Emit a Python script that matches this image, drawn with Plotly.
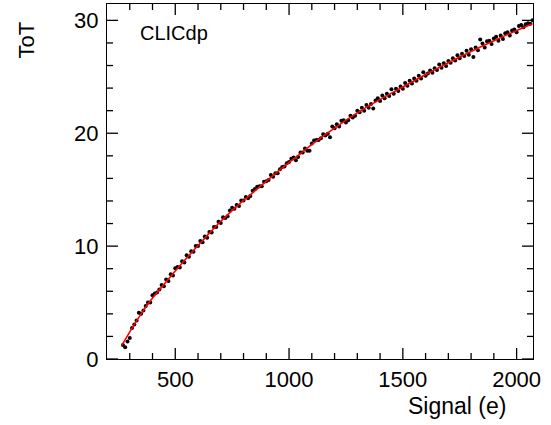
import plotly.graph_objects as go

# Measured points (Signal in electrons, ToT counts)
signal = [270, 280, 290, 300, 310, 320, 330, 340, 350, 360, 370, 380, 390, 400,
          410, 420, 430, 440, 450, 460, 470, 480, 490, 500, 510, 520, 530, 540, 550,
          560, 570, 580, 590, 600, 610, 620, 630, 640, 650, 660, 670, 680, 690, 700,
          710, 720, 730, 740, 750, 760, 770, 780, 790, 800, 810, 820, 830, 840, 850,
          860, 870, 880, 890, 900, 910, 920, 930, 940, 950, 960, 970, 980, 990, 1000,
          1010, 1020, 1030, 1040, 1050, 1060, 1070, 1080, 1090, 1100, 1110, 1120, 1130,
          1140, 1150, 1160, 1170, 1180, 1190, 1200, 1210, 1220, 1230, 1240, 1250, 1260,
          1270, 1280, 1290, 1300, 1310, 1320, 1330, 1340, 1350, 1360, 1370, 1380, 1390,
          1400, 1410, 1420, 1430, 1440, 1450, 1460, 1470, 1480, 1490, 1500, 1510, 1520,
          1530, 1540, 1550, 1560, 1570, 1580, 1590, 1600, 1610, 1620, 1630, 1640, 1650,
          1660, 1670, 1680, 1690, 1700, 1710, 1720, 1730, 1740, 1750, 1760, 1770, 1780,
          1790, 1800, 1810, 1820, 1830, 1840, 1850, 1860, 1870, 1880, 1890, 1900, 1910,
          1920, 1930, 1940, 1950, 1960, 1970, 1980, 1990, 2000, 2010, 2020, 2030, 2040,
          2050, 2060, 2070]
tot = [1.25, 1.05, 1.55, 1.85, 2.75, 3.05, 3.4, 4.1, 4.0, 4.3, 4.7, 5.0, 5.0, 5.65,
       5.8, 5.9, 6.15, 6.55, 6.45, 7.05, 6.9, 7.5, 7.4, 8.05, 8.15, 8.1, 8.65, 8.55, 9.2,
       9.05, 9.55, 9.5, 10.0, 10.0, 10.45, 10.35, 10.85, 10.75, 11.25, 11.2, 11.7, 11.7, 12.15, 12.05,
       12.55, 12.5, 12.65, 13.15, 13.4, 13.3, 13.65, 13.55, 14.05, 14.05, 14.35, 14.25, 14.45, 14.9, 15.05,
       15.25, 15.3, 15.3, 15.7, 15.75, 15.85, 16.3, 16.15, 16.45, 16.45, 16.8, 17.0, 17.05, 17.35, 17.45,
       17.75, 17.85, 17.6, 17.9, 18.3, 18.3, 18.65, 18.45, 18.45, 19.1, 19.35, 19.4, 19.4,
       19.55, 19.9, 19.8, 19.95, 19.65, 20.6, 20.45, 20.8, 20.6, 21.1, 21.15, 20.95, 21.15,
       21.55, 21.4, 21.55, 22.0, 21.85, 22.25, 22.0, 22.5, 22.25, 22.6, 22.2, 22.9, 23.1,
       22.85, 23.35, 23.1, 23.5, 23.3, 23.9, 23.5, 23.95, 23.75, 24.15, 23.95, 24.45, 24.2,
       24.65, 24.4, 24.85, 24.65, 25.1, 24.85, 25.4, 25.1, 25.3, 25.55, 25.35, 25.75, 25.6,
       26.1, 25.8, 26.2, 25.95, 26.4, 26.25, 26.65, 26.45, 26.9, 26.65, 27.05, 26.85, 27.3,
       26.95, 27.45, 26.75, 27.6, 27.35, 28.3, 27.95, 27.6, 28.15, 28.2, 27.9, 28.4, 28.55,
       28.2, 28.65, 28.35, 28.85, 28.95, 28.65, 29.1, 29.2, 28.95, 29.5, 29.6, 29.4, 29.65,
       29.75, 29.7, 30.0]

# Fit curve
fit_signal = [265, 300, 350, 400, 450, 500, 550, 600, 650, 700, 750, 800, 850, 900, 950,
              1000, 1100, 1200, 1300, 1400, 1500, 1600, 1700, 1800, 1900, 2000, 2070]
fit_tot = [1.2, 2.4, 4.0, 5.4, 6.6, 7.8, 8.95, 10.05, 11.15, 12.2, 13.15, 14.05, 14.9, 15.75, 16.6,
           17.4, 19.0, 20.45, 21.8, 23.0, 24.1, 25.2, 26.25, 27.25, 28.2, 29.1, 29.7]

# Tick values
x_major = [500, 1000, 1500, 2000]
x_minor = [300, 400, 600, 700, 800, 900, 1100, 1200, 1300, 1400, 1600, 1700, 1800, 1900]
y_major = [0, 10, 20, 30]
y_minor = [2, 4, 6, 8, 12, 14, 16, 18, 22, 24, 26, 28]

FONT = "Liberation Sans, Arial, Helvetica, sans-serif"
W, H = 551, 425
ML, MR, MT, MB = 107, 18, 4, 66
PW, PH = W - ML - MR, H - MT - MB
X_RANGE = [200, 2072]
Y_RANGE = [0, 31.45]
MAJ, MIN = 11, 6  # tick lengths in px

dx = (X_RANGE[1] - X_RANGE[0]) / PW
dy = (Y_RANGE[1] - Y_RANGE[0]) / PH

fig = go.Figure()

# ROOT-style inner tick marks, one small line trace per tick (drawn on the axes' own scales)
for vals, ln in ((x_major, MAJ), (x_minor, MIN)):
    for v in vals:
        for y0, y1 in ((Y_RANGE[0], Y_RANGE[0] + ln * dy), (Y_RANGE[1], Y_RANGE[1] - ln * dy)):
            fig.add_trace(go.Scatter(x=[v, v], y=[y0, y1], mode="lines",
                                     line=dict(color="black", width=1.3),
                                     hoverinfo="skip", showlegend=False))
for vals, ln in ((y_major, MAJ), (y_minor, MIN)):
    for v in vals:
        for x0, x1 in ((X_RANGE[0], X_RANGE[0] + ln * dx), (X_RANGE[1], X_RANGE[1] - ln * dx)):
            fig.add_trace(go.Scatter(x=[x0, x1], y=[v, v], mode="lines",
                                     line=dict(color="black", width=1.3),
                                     hoverinfo="skip", showlegend=False))

fig.add_trace(go.Scatter(x=signal, y=tot, mode="markers",
                         marker=dict(color="black", size=4),
                         showlegend=False))
fig.add_trace(go.Scatter(x=fit_signal, y=fit_tot, mode="lines",
                         line=dict(color="#ff0000", width=1.6, shape="spline", smoothing=0.6),
                         showlegend=False))

axis_common = dict(showgrid=False, zeroline=False, showline=True, linecolor="black",
                   linewidth=1.2, mirror=True, ticks="",
                   tickfont=dict(family=FONT, size=22, color="black"))

fig.update_xaxes(range=X_RANGE, tickmode="array", tickvals=x_major,
                 ticktext=[str(v) for v in x_major], **axis_common)
fig.update_yaxes(range=Y_RANGE, tickmode="array", tickvals=y_major,
                 ticktext=[str(v) for v in y_major], ticklabelstandoff=3, **axis_common)

fig.add_annotation(text="Signal (e)", xref="paper", yref="paper", x=0.942, y=-0.132,
                   xanchor="right", yanchor="middle", showarrow=False,
                   font=dict(family=FONT, size=23, color="black"))
fig.add_annotation(text="ToT", xref="paper", yref="paper", x=-0.188, y=0.9,
                   xanchor="center", yanchor="middle", textangle=-90, showarrow=False,
                   font=dict(family=FONT, size=22, color="black"))
fig.add_annotation(text="CLICdp", xref="paper", yref="paper", x=0.073, y=0.918,
                   xanchor="left", yanchor="middle", showarrow=False,
                   font=dict(family=FONT, size=20, color="black"))

fig.update_layout(width=W, height=H,
                  margin=dict(l=ML, r=MR, t=MT, b=MB),
                  paper_bgcolor="white", plot_bgcolor="white")

fig.write_html("out.html")
